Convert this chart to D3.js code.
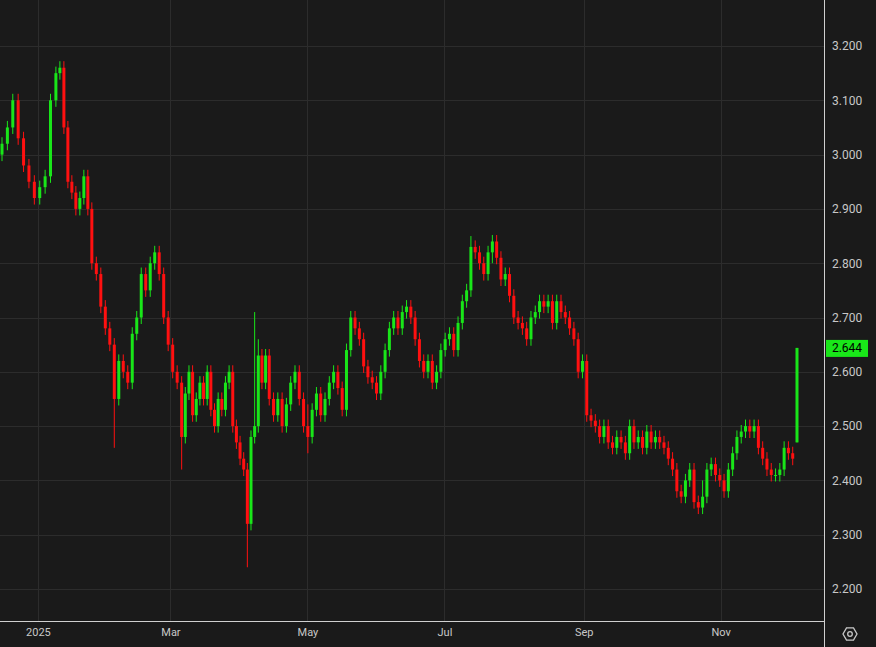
<!DOCTYPE html>
<html><head><meta charset="utf-8">
<script src="https://cdn.jsdelivr.net/npm/d3@7/dist/d3.min.js"></script>
<style>body{margin:0;background:#1a1a1a}svg{display:block}</style>
</head><body><svg id="c" width="876" height="647"></svg>
<script>
const closes = [3.02,3.05,3.10,3.03,2.98,2.95,2.92,2.94,2.96,3.10,3.15,3.16,3.05,2.95,2.93,2.90,2.92,2.96,2.90,2.80,2.78,2.72,2.68,2.65,2.55,2.62,2.60,2.58,2.67,2.70,2.78,2.75,2.80,2.82,2.78,2.70,2.65,2.60,2.58,2.48,2.56,2.60,2.52,2.55,2.58,2.55,2.60,2.53,2.50,2.55,2.53,2.58,2.60,2.50,2.47,2.44,2.42,2.32,2.48,2.50,2.63,2.58,2.63,2.55,2.52,2.55,2.50,2.54,2.58,2.60,2.55,2.50,2.48,2.53,2.56,2.52,2.55,2.58,2.60,2.57,2.53,2.64,2.70,2.68,2.66,2.61,2.59,2.58,2.56,2.60,2.64,2.68,2.70,2.68,2.71,2.72,2.70,2.66,2.62,2.60,2.62,2.58,2.60,2.64,2.66,2.67,2.64,2.69,2.73,2.75,2.83,2.82,2.80,2.78,2.82,2.84,2.81,2.77,2.78,2.74,2.70,2.69,2.68,2.66,2.70,2.71,2.73,2.72,2.73,2.69,2.73,2.71,2.70,2.68,2.66,2.60,2.62,2.52,2.51,2.50,2.48,2.50,2.47,2.46,2.48,2.47,2.45,2.50,2.47,2.48,2.46,2.49,2.47,2.48,2.47,2.46,2.44,2.42,2.38,2.37,2.40,2.42,2.36,2.35,2.37,2.42,2.43,2.41,2.40,2.38,2.42,2.45,2.48,2.49,2.50,2.49,2.50,2.46,2.44,2.42,2.41,2.41,2.42,2.46,2.45,2.44,2.644];
const firstOpen = 3.00;
const lastOpen = 2.47;
// candle index -> date anchors (trading days between are spread evenly)
const anchorIdx = [0,10,19,39,63,186];
const anchorDates = ["2024-12-16","2025-01-09","2025-01-25","2025-03-06","2025-04-14","2025-12-05"];
// notable long wicks: [index, high, low]
const wicks = [[24,2.60,2.46],[11,3.17,3.14],[39,2.56,2.42],[57,2.40,2.24],[59,2.71,2.48],[60,2.66,2.56],[72,2.54,2.45],[110,2.85,2.78],[115,2.85,2.80],[164,2.40,2.34]];
const yTicks = [2.2,2.3,2.4,2.5,2.6,2.7,2.8,2.9,3.0,3.1,3.2];
const monthTicks = [["2025","2025-01-01"],["Mar","2025-03-01"],["May","2025-05-01"],["Jul","2025-07-01"],["Sep","2025-09-01"],["Nov","2025-11-01"]];

const svg = d3.select("#c");
const W=876,H=647, R=824, B=621;
svg.append("rect").attr("width",W).attr("height",H).attr("fill","#1a1a1a");
const y = d3.scaleLinear().domain([2.2,3.2]).range([589,46]);
const t = d3.scaleTime().domain([new Date(anchorDates[0]),new Date(anchorDates[anchorDates.length-1])]).range([2,797]);
const idxToDate = d3.scaleLinear().domain(anchorIdx).range(anchorDates.map(s=>+new Date(s)));
const x = i => t(new Date(idxToDate(i)));
const n = closes.length;
const g = svg.append("g");
yTicks.forEach(v=>g.append("line").attr("x1",0).attr("x2",R).attr("y1",Math.round(y(v))+0.5).attr("y2",Math.round(y(v))+0.5).attr("stroke","#2c2c2c"));
monthTicks.forEach(m=>g.append("line").attr("x1",Math.round(t(new Date(m[1])))+0.5).attr("x2",Math.round(t(new Date(m[1])))+0.5).attr("y1",0).attr("y2",B).attr("stroke","#2c2c2c"));
const data = closes.map((c,i)=>{
  const o = i===0?firstOpen:(i===n-1?lastOpen:closes[i-1]);
  let h=Math.max(o,c)+0.012, l=Math.min(o,c)-0.012;
  const w = wicks.find(d=>d[0]===i); if(w){h=Math.max(h,w[1]);l=Math.min(l,w[2]);}
  if(i===n-1){h=c;l=o;}
  return {i,o,c,h,l};
});
const green="#19e619", red="#ff1010";
const cg = svg.append("g");
data.forEach(d=>{
  const col = d.c>=d.o?green:red, cx=x(d.i);
  cg.append("line").attr("x1",cx).attr("x2",cx).attr("y1",y(d.h)).attr("y2",y(d.l)).attr("stroke",col).attr("stroke-width",1);
  const top=y(Math.max(d.o,d.c)), bot=y(Math.min(d.o,d.c));
  cg.append("rect").attr("x",cx-1.5).attr("width",3).attr("y",top).attr("height",Math.max(1,bot-top)).attr("fill",col);
});
svg.append("line").attr("x1",R+0.5).attr("x2",R+0.5).attr("y1",0).attr("y2",H).attr("stroke","#d0d0d0");
svg.append("line").attr("x1",0).attr("x2",R).attr("y1",B+0.5).attr("y2",B+0.5).attr("stroke","#d0d0d0");
const ya = svg.append("g").attr("transform",`translate(${R},0)`).call(d3.axisRight(y).tickValues(yTicks).tickFormat(d3.format(".3f")).tickSize(0).tickPadding(8));
ya.select(".domain").remove();
ya.selectAll("text").attr("fill","#c8c8c8").style("font-family","Roboto, sans-serif").style("font-size","12px");
const xa = svg.append("g").attr("transform",`translate(0,${B})`).call(d3.axisBottom(t).tickValues(monthTicks.map(m=>new Date(m[1]))).tickFormat((d,i)=>monthTicks[i][0]).tickSize(0).tickPadding(7));
xa.select(".domain").remove();
xa.selectAll("text").attr("fill","#c8c8c8").style("font-family","Roboto, sans-serif").style("font-size","11px");
const last = closes[n-1];
svg.append("rect").attr("x",826).attr("y",y(last)-8).attr("width",42).attr("height",17).attr("fill",green);
svg.append("text").attr("x",847).attr("y",y(last)+4.5).attr("text-anchor","middle").attr("fill","#000").style("font-family","Roboto, sans-serif").style("font-size","12px").text(d3.format(".3f")(last));
const hx=850,hy=634,hr=7;
svg.append("path").attr("d",d3.line()(d3.range(6).map(k=>[hx+hr*Math.cos(k*Math.PI/3),hy+hr*Math.sin(k*Math.PI/3)]))+"Z").attr("fill","none").attr("stroke","#c8c8c8").attr("stroke-width",1.3);
svg.append("circle").attr("cx",hx).attr("cy",hy).attr("r",2.3).attr("fill","none").attr("stroke","#c8c8c8").attr("stroke-width",1.3);
</script></body></html>
